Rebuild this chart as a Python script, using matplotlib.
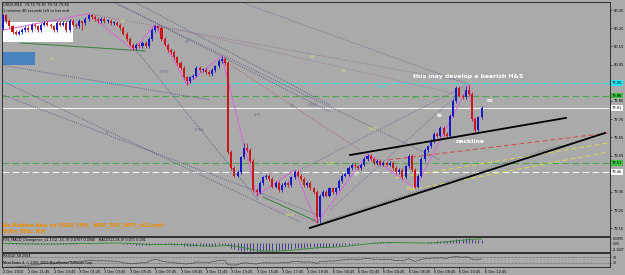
import matplotlib
matplotlib.use("Agg")
import matplotlib.pyplot as plt
import matplotlib.transforms as mtransforms
from matplotlib.patches import Rectangle
import pandas as pd

# USDX M15 candles (2 Dec 19:45 -> 6 Dec 12:30)
first_open = 80.25
closes = [
    80.32, 80.29, 80.26, 80.23, 80.22, 80.23, 80.24, 80.25, 80.24, 80.27,
    80.26, 80.24, 80.27, 80.28, 80.27, 80.26, 80.24, 80.28, 80.27, 80.28,
    80.24, 80.29, 80.27, 80.26, 80.29, 80.28, 80.30, 80.32, 80.31, 80.30,
    80.29, 80.30, 80.29, 80.29, 80.28, 80.28, 80.27, 80.25, 80.22, 80.19,
    80.16, 80.14, 80.16, 80.15, 80.17, 80.15, 80.19, 80.24, 80.26, 80.25,
    80.19, 80.16, 80.13, 80.12, 80.09, 80.06, 80.03, 79.98, 79.96, 79.98,
    79.99, 80.03, 80.02, 80.02, 80.01, 80.00, 80.02, 80.04, 80.07, 80.08,
    80.06, 79.57, 79.48, 79.44, 79.46, 79.54, 79.59, 79.58, 79.52, 79.36,
    79.35, 79.40, 79.43, 79.44, 79.42, 79.38, 79.40, 79.36, 79.39, 79.40,
    79.39, 79.43, 79.46, 79.44, 79.42, 79.39, 79.40, 79.37, 79.35, 79.21,
    79.33, 79.35, 79.33, 79.37, 79.35, 79.37, 79.41, 79.44, 79.45, 79.48,
    79.50, 79.49, 79.48, 79.50, 79.53, 79.55, 79.53, 79.51, 79.52, 79.50,
    79.51, 79.50, 79.51, 79.48, 79.46, 79.47, 79.43, 79.49, 79.55, 79.47,
    79.38, 79.44, 79.53, 79.58, 79.60, 79.63, 79.67, 79.66, 79.70, 79.67,
    79.66, 79.77, 79.85, 79.92, 79.88, 79.87, 79.91, 79.89, 79.75, 79.69,
    79.76, 79.81,
]
# wick beyond the body, in hundredths
up_wick = [
    1, 1, 1, 1, 1, 1, 1, 1, 1, 1, 1, 1, 1, 1, 1, 1, 1, 1, 1, 1,
    1, 1, 1, 1, 1, 0, 1, 1, 1, 1, 1, 1, 1, 1, 1, 1, 1, 1, 1, 1,
    1, 1, 1, 1, 1, 1, 1, 1, 1, 1, 1, 1, 1, 1, 1, 1, 1, 1, 1, 1,
    1, 1, 1, 1, 1, 1, 1, 1, 1, 2, 1, 1, 1, 1, 1, 1, 3, 3, 1, 1,
    1, 1, 1, 1, 1, 1, 1, 1, 1, 1, 1, 1, 1, 1, 1, 1, 1, 1, 1, 1,
    1, 1, 1, 1, 1, 1, 1, 1, 1, 1, 1, 1, 1, 1, 1, 1, 1, 1, 1, 1,
    1, 1, 1, 1, 1, 1, 1, 1, 1, 1, 1, 1, 1, 1, 1, 1, 1, 1, 1, 1,
    1, 1, 1, 1, 1, 1, 2, 3, 1, 1, 1, 1,
]
dn_wick = [
    1, 1, 1, 1, 1, 1, 1, 1, 1, 1, 1, 1, 1, 1, 1, 1, 1, 1, 1, 1,
    1, 1, 1, 1, 1, 4, 1, 1, 1, 1, 1, 1, 1, 1, 1, 1, 1, 1, 1, 1,
    1, 1, 1, 1, 1, 1, 1, 1, 1, 1, 1, 1, 1, 1, 1, 1, 1, 1, 2, 1,
    1, 1, 1, 1, 1, 1, 1, 1, 1, 1, 1, 1, 1, 1, 1, 1, 1, 1, 1, 1,
    2, 1, 1, 1, 1, 1, 1, 1, 1, 1, 1, 1, 1, 1, 1, 1, 1, 1, 1, 3,
    3, 1, 1, 1, 1, 1, 1, 1, 1, 1, 1, 1, 1, 1, 1, 1, 1, 1, 1, 1,
    1, 1, 1, 1, 1, 1, 1, 1, 1, 1, 1, 1, 1, 1, 1, 1, 1, 1, 1, 1,
    1, 1, 1, 1, 1, 1, 1, 1, 1, 1, 1, 1,
]

date_labels = ["2 Dec 2010", "2 Dec 21:45", "2 Dec 23:45", "3 Dec 01:45", "3 Dec 03:45",
               "3 Dec 05:45", "3 Dec 07:45", "3 Dec 09:45", "3 Dec 11:45", "3 Dec 13:45",
               "3 Dec 15:45", "3 Dec 17:45", "3 Dec 19:45", "6 Dec 00:45", "6 Dec 02:45",
               "6 Dec 04:45", "6 Dec 06:45", "6 Dec 08:45", "6 Dec 10:45", "6 Dec 12:45"]
price_ticks = [80.35, 80.25, 80.15, 80.05, 79.95, 79.85, 79.75, 79.65,
               79.55, 79.45, 79.35, 79.25, 79.15]

# horizontal levels
level_prices = [79.95, 79.88, 79.81, 79.51, 79.46]
level_colors = ["#40d8e0", "#4aa84a", "#f4f4f4", "#4aa84a", "#f4f4f4"]
level_styles = [(0, (6, 3)), (0, (6, 3)), "-", (0, (6, 3)), (0, (6, 3))]
box_colors = ["#20e8f0", "#40c040", "#ffffff", "#40c040", "#ffffff"]

# trader's lines (bar, price, bar, price)
neckline = (109.5, 79.553, 177.6, 79.757)
support = (96.8, 79.152, 189.9, 79.674)
red_line = (121.5, 79.526, 190.9, 79.674)
yellow_lines = [(123.7, 79.427, 190.9, 79.619), (128.4, 79.361, 190.9, 79.570)]
green_lines = [(5.4, 80.169, 44.8, 80.125), (82.0, 79.323, 99.4, 79.185)]
dotted_lines = [
    (73.2, 80.405, 147.3, 79.938, "#6e6090"),
    (27.4, 80.328, 146.4, 79.954, "#8a6a90"),
    (30.6, 80.427, 137.9, 79.526, "#4e5080"),
    (-0.9, 79.965, 93.7, 79.185, "#4e5080"),
    (-0.9, 79.889, 99.4, 79.224, "#4e5080"),
    (32.2, 80.421, 103.2, 79.790, "#4e5080"),
    (38.5, 80.421, 103.2, 79.828, "#4e5080"),
    (69.4, 80.075, 112.6, 79.581, "#b05858"),
    (93.7, 79.471, 146.4, 79.938, "#7a5a9a"),
    (103.2, 79.251, 145.7, 79.921, "#7a5a9a"),
    (100.9, 79.185, 175.7, 79.608, "#5a5a7a"),
    (80.4, 79.290, 99.4, 79.180, "#b070b0"),
    (41.6, 80.136, 80.4, 79.306, "#4e5080"),
    (48.6, 80.268, 147.3, 79.872, "#9a7090"),
    (-0.9, 80.048, 65.3, 79.856, "#4e5080"),
]
zz_bars = [0, 27, 41, 48, 58, 69, 80, 92, 99, 115, 130, 147, 149]

fib_labels = [(37.9, 80.29, "0.5", "#e8e860"), (15.5, 80.081, "0.5", "#e8e860"),
              (97.5, 80.092, "0.5", "#e8e860"), (107.3, 80.015, "0.5", "#e8e860"),
              (116.4, 79.696, "1.618", "#e8e860"), (103.2, 79.504, "1.272", "#e8e860"),
              (90.5, 79.224, "1.618", "#e8e860"), (128.4, 79.372, "1.414", "#e8e860"),
              (32.8, 79.674, "1.0", "#6a6a8a"), (58.3, 80.174, "0.5", "#6a6a8a"),
              (51.1, 80.01, "0.786", "#6a6a8a"), (62.1, 79.69, "0.786", "#6a6a8a"),
              (80.4, 79.773, "0.75", "#6a6a8a"), (91.2, 79.82, "0.5", "#6a6a8a"),
              (97.8, 79.828, "0.382", "#6a6a8a"), (111.7, 79.444, "VPP", "#e6e6e6"),
              (119.5, 79.925, "0.618", "#30d8e0"), (130.0, 79.866, "0.57", "#40a040")]

BG = "#aaaaaa"
n = len(closes)
opens = [first_open] + closes[:-1]
highs = [max(o, c) + w / 100 for o, c, w in zip(opens, closes, up_wick)]
lows = [min(o, c) - w / 100 for o, c, w in zip(opens, closes, dn_wick)]
bars = list(range(n))
colors = ["#1818c8" if c >= o else "#c81818" for o, c in zip(opens, closes)]

fig = plt.figure(figsize=(6.25, 2.75), dpi=100, facecolor=BG)
ax = fig.add_axes([0.0032, 0.1418, 0.9728, 0.8509], facecolor=BG)
ax_macd = fig.add_axes([0.0032, 0.0836, 0.9728, 0.0545], facecolor=BG, sharex=ax)
ax_rsi = fig.add_axes([0.0032, 0.0291, 0.9728, 0.0509], facecolor=BG, sharex=ax)
ax.set_xlim(-0.32, 191.5)
ax.set_ylim(79.108, 80.394)

# boxes on the upper left
ax.add_patch(Rectangle((-0.3, 80.174), 22.4, 0.11, fc="white", ec="none", zorder=1))
ax.add_patch(Rectangle((-0.3, 80.048), 10.4, 0.072, fc="#4a82c0", ec="none", zorder=1))

for p, col, ls in zip(level_prices, level_colors, level_styles):
    ax.axhline(p, color=col, ls=ls, lw=0.8, zorder=1)

for x0, y0, x1, y1, col in dotted_lines:
    ax.plot([x0, x1], [y0, y1], color=col, lw=0.6, ls=(0, (1, 1.5)), zorder=2)
for x0, y0, x1, y1 in green_lines:
    ax.plot([x0, x1], [y0, y1], color="#3a803a", lw=0.7, zorder=2)
for x0, y0, x1, y1 in yellow_lines:
    ax.plot([x0, x1], [y0, y1], color="#dcd850", lw=0.7, ls=(0, (5, 3)), zorder=2)
ax.plot(red_line[::2], red_line[1::2], color="#d04848", lw=0.7, ls=(0, (5, 3)), zorder=2)

# zigzag
zz_prices = [lows[b] if k % 2 == 0 else highs[b] for k, b in enumerate(zz_bars)]
ax.plot(zz_bars, zz_prices, color="#d864d8", lw=0.7, zorder=3)

# candles
ax.vlines(bars, lows, highs, colors=colors, lw=0.6, zorder=4)
ax.bar(bars, [max(abs(c - o), 0.004) for o, c in zip(opens, closes)],
       bottom=[min(o, c) for o, c in zip(opens, closes)],
       width=0.65, color=colors, lw=0, zorder=5)

ax.plot(neckline[::2], neckline[1::2], color="black", lw=1.3, zorder=6)
ax.plot(support[::2], support[1::2], color="black", lw=1.3, zorder=6)

for x, y, t, col in fib_labels:
    ax.text(x, y, t, color=col, fontsize=2.4, ha="center", va="center", zorder=3)

wfont = dict(color="white", fontsize=4.4, fontweight="bold", va="center", zorder=7)
ax.text(129.3, 79.987, "this may develop a bearish H&S", **wfont)
ax.text(136.9, 79.768, "ls", **wfont)
ax.text(152.4, 79.85, "rs", **wfont)
ax.text(142.6, 79.625, "neckline", **wfont)

ax.text(0.002, 0.995, "USDX,M15  79.74 79.81 79.74 79.80", transform=ax.transAxes,
        fontsize=2.6, va="top", zorder=8)
ax.text(0.002, 0.968, "1 minutes 40 seconds left to bar end", transform=ax.transAxes,
        fontsize=2.5, va="top", zorder=8)
ax.text(0.002, 0.045, "No Pattern Now on USDX 15M,  WRR_ZUP_INFO_v02.mq4",
        transform=ax.transAxes, fontsize=3.6, fontweight="bold", color="#f08c00", va="center")
ax.text(0.002, 0.018, "Entry Risk: N/A", transform=ax.transAxes, fontsize=3.6,
        fontweight="bold", color="#f08c00", va="center")

# price scale (labels under the level boxes are hidden, as in the terminal)
ax.yaxis.tick_right()
ax.set_yticks(price_ticks)
hidden = [min(level_prices, key=lambda q: abs(q - p)) for p in price_ticks]
ax.set_yticklabels(["" if abs(h - p) < 0.015 else f"{p:.2f}" for p, h in zip(price_ticks, hidden)])
ax.tick_params(axis="y", labelsize=2.6, length=1.5, width=0.4, pad=1)
ax.tick_params(axis="x", bottom=False, labelbottom=False)
trans = mtransforms.blended_transform_factory(ax.transAxes, ax.transData)
for p, bc in zip(level_prices, box_colors):
    ax.text(1.003, p, f"{p:.2f}", transform=trans, fontsize=2.6, va="center",
            bbox=dict(boxstyle="square,pad=0.25", fc=bc, ec="none"), zorder=9, clip_on=False)

# MACD
s = pd.Series(closes)
macd = s.ewm(span=12, adjust=False).mean() - s.ewm(span=26, adjust=False).mean()
signal = macd.rolling(9, min_periods=1).mean()
ax_macd.vlines(bars, 0, macd, colors="#14147a", lw=0.5)
ax_macd.plot(bars, signal, color="#2c8a2c", lw=0.6)
lo, hi = macd.min(), macd.max()
ax_macd.set_ylim(lo * 1.05, -lo * 0.75)
ax_macd.set_yticks([-lo * 0.55, 0, lo * 0.8])
ax_macd.set_yticklabels([f"{-lo * 0.55:.4f}", "0.00", f"{lo * 0.8:.4f}"])
ax_macd.yaxis.tick_right()
ax_macd.tick_params(axis="y", labelsize=2.2, length=1, width=0.4, pad=1)
ax_macd.tick_params(axis="x", bottom=False, labelbottom=False)
ax_macd.text(0.002, 0.95, f"FX5_MACD_Divergence_v1.1(12, 26, 9) {macd.iloc[-1]:.4f} {signal.iloc[-1]:.4f}"
             f"   MACD(12,26,9) {macd.iloc[-1]:.3f} {signal.iloc[-1]:.3f}",
             transform=ax_macd.transAxes, fontsize=2.4, va="top")

# RSI
delta = s.diff()
gain = delta.clip(lower=0).ewm(alpha=1 / 14, adjust=False).mean()
loss = (-delta.clip(upper=0)).ewm(alpha=1 / 14, adjust=False).mean()
rsi = 100 - 100 / (1 + gain / loss)
ax_rsi.plot(bars, rsi, color="#505050", lw=0.5)
for lvl in (70, 30):
    ax_rsi.axhline(lvl, color="#303030", lw=0.4, ls=(0, (1, 1.5)))
ax_rsi.set_ylim(0, 100)
ax_rsi.set_yticks([70, 30])
ax_rsi.yaxis.tick_right()
ax_rsi.tick_params(axis="y", labelsize=2.2, length=1, width=0.4, pad=1)
ax_rsi.text(0.002, 0.95, f"RSI(14) {rsi.iloc[-1]:.4f}", transform=ax_rsi.transAxes,
            fontsize=2.4, va="top")
ax_rsi.text(0.002, 0.12, "MetaTrader 4, \u00a9 2001-2009 MetaQuotes Software Corp.",
            transform=ax_rsi.transAxes, fontsize=2.3, va="bottom")

# time axis
ax_rsi.set_xticks(range(0, 8 * len(date_labels), 8))
ax_rsi.set_xticklabels(date_labels)
ax_rsi.tick_params(axis="x", labelsize=2.5, length=1.5, width=0.4, pad=0.5)
for lbl in ax_rsi.get_xticklabels():
    lbl.set_ha("left")

for a in (ax, ax_macd, ax_rsi):
    for sp in a.spines.values():
        sp.set_color("#303030")
        sp.set_linewidth(0.7)

fig.savefig("out.png", dpi=100, facecolor=BG)
